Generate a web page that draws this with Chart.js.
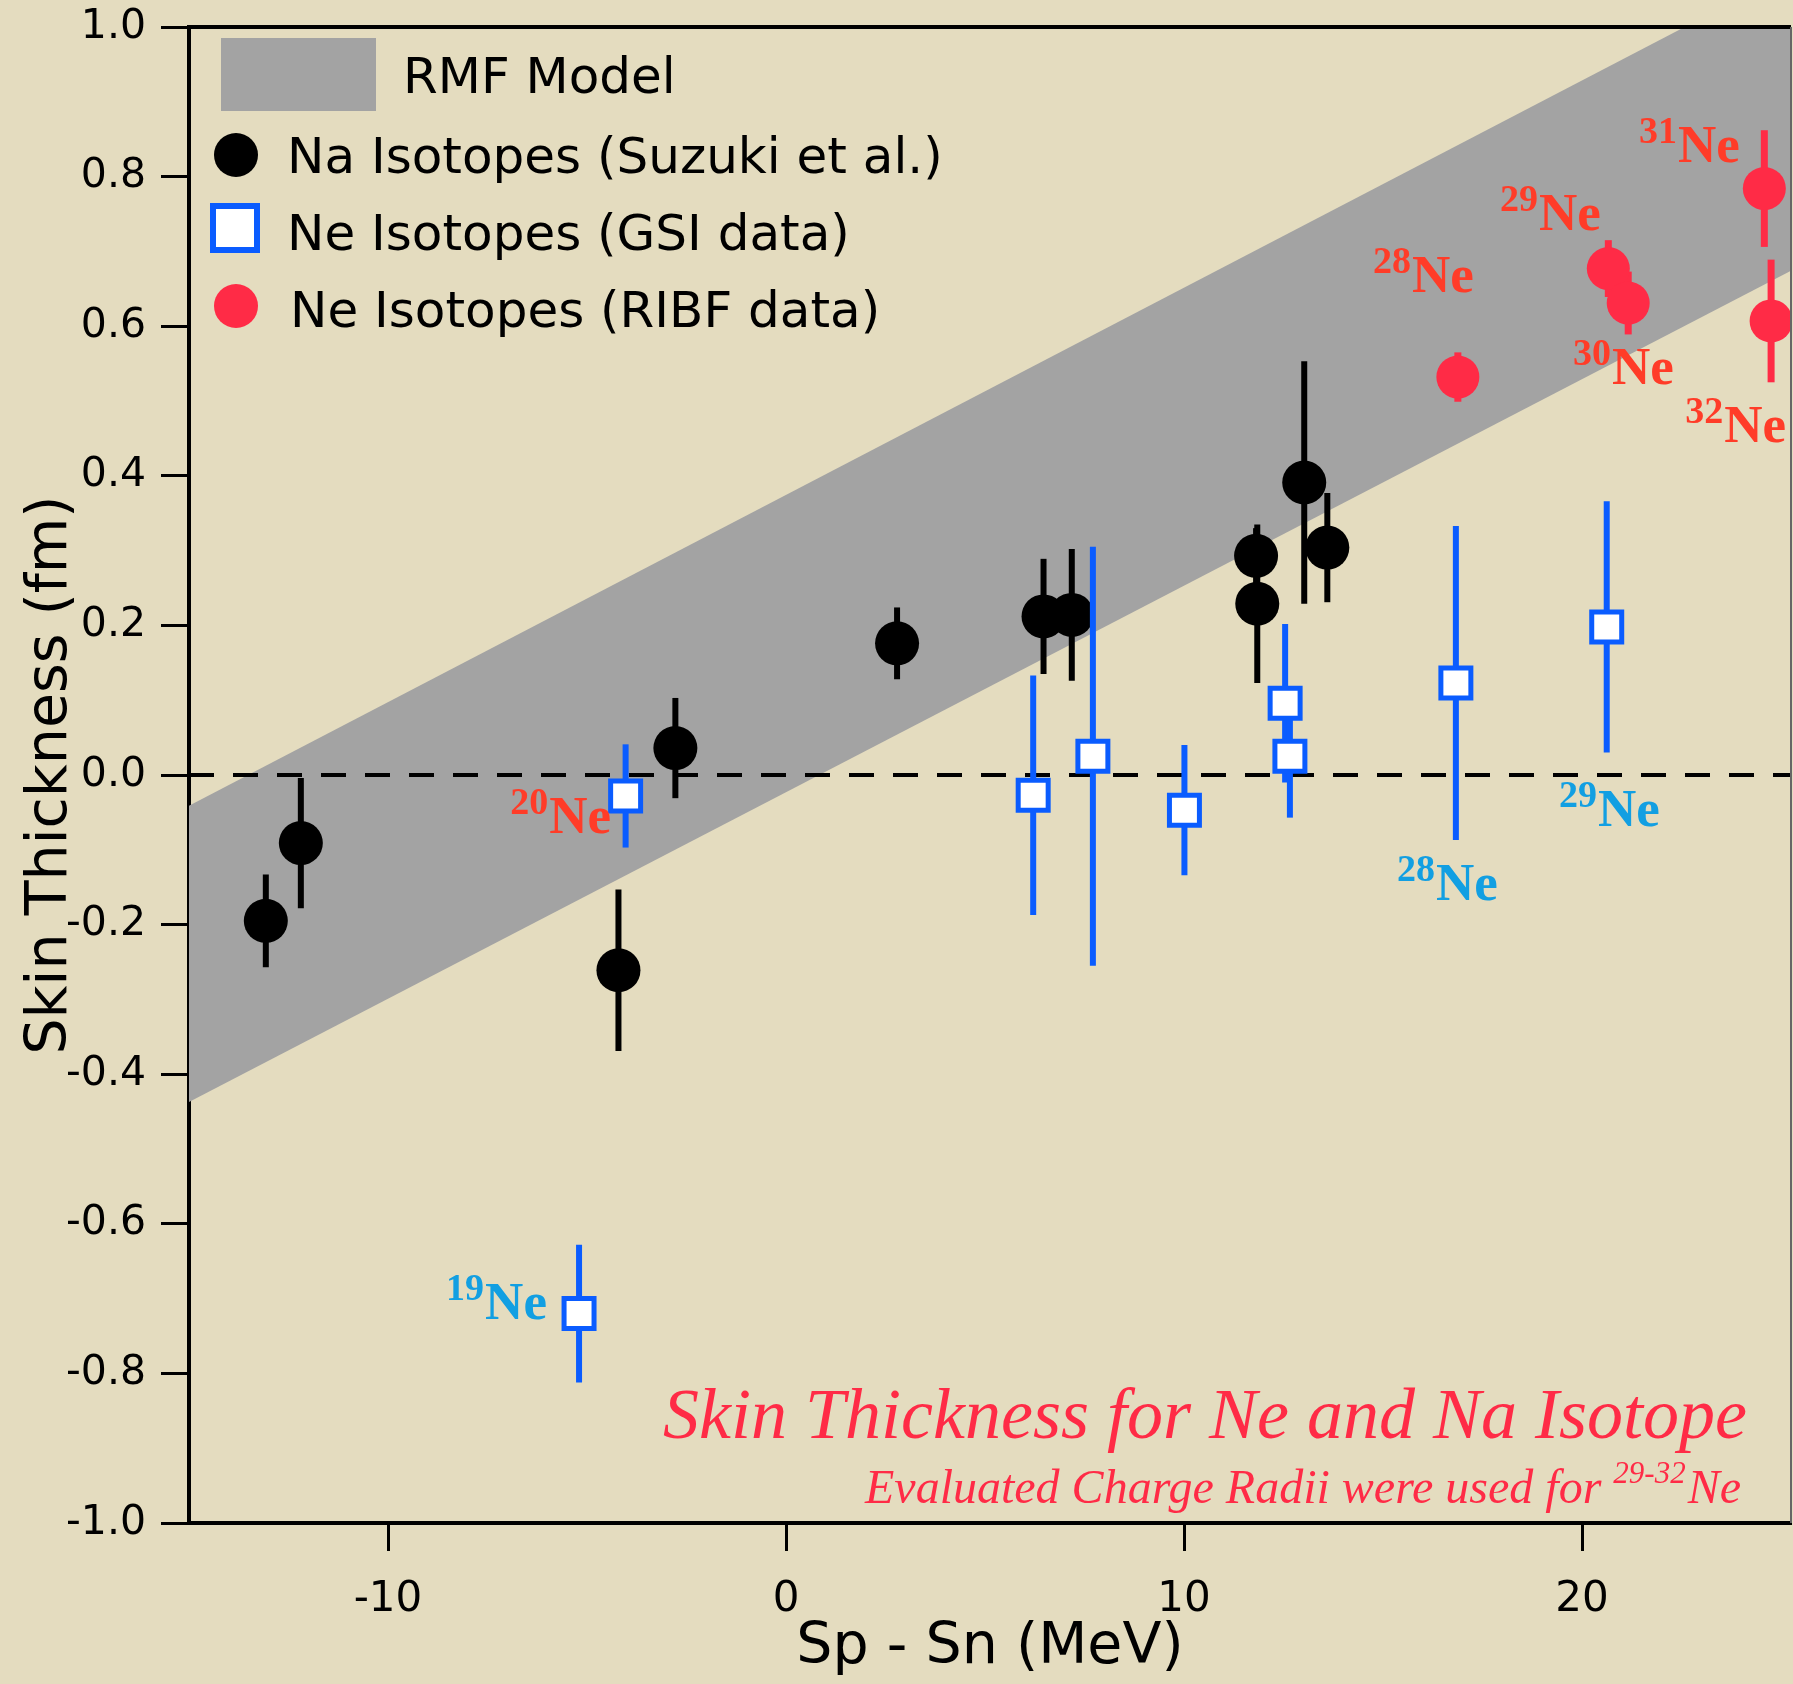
<!DOCTYPE html>
<html>
<head>
<meta charset="utf-8">
<title>Skin Thickness for Ne and Na Isotope</title>
<script src="https://cdn.jsdelivr.net/npm/chart.js@4.4.1/dist/chart.umd.min.js"></script>
<style>
  html, body { margin: 0; padding: 0; background: #e4dcbf; }
  #wrap { width: 1793px; height: 1684px; position: relative; }
</style>
</head>
<body>
<div id="wrap"><canvas id="skinChart"></canvas></div>
<script>
// x = Sp - Sn (MeV), y = skin thickness (fm), err = half length of the error bar
const naX   = [-13.07, -12.19, -4.21, -2.78, 2.79, 6.47, 7.18, 11.81, 11.84, 13.02, 13.60];
const naY   = [-0.195, -0.091, -0.261, 0.036, 0.176, 0.212, 0.214, 0.293, 0.229, 0.391, 0.304];
const naErr = [0.062, 0.087, 0.108, 0.067, 0.048, 0.077, 0.088, 0.037, 0.106, 0.162, 0.073];

const gsiX   = [-5.20, -4.03, 6.21, 7.71, 10.01, 12.54, 12.66, 16.83, 20.62];
const gsiY   = [-0.720, -0.028, -0.027, 0.025, -0.047, 0.096, 0.025, 0.123, 0.198];
const gsiErr = [0.092, 0.069, 0.160, 0.280, 0.087, 0.106, 0.082, 0.210, 0.168];

const ribfX   = [16.88, 20.66, 21.16, 24.58, 24.75];
const ribfY   = [0.532, 0.677, 0.631, 0.784, 0.607];
const ribfErr = [0.033, 0.038, 0.042, 0.078, 0.082];

// RMF model band (straight edges)
const bandX     = [-15, 25.25];
const bandUpper = [-0.041, 1.074];
const bandLower = [-0.437, 0.674];
const zeroY     = [0, 0];

const xTicks = [-10, 0, 10, 20];
const yTicks = [-1.0, -0.8, -0.6, -0.4, -0.2, 0.0, 0.2, 0.4, 0.6, 0.8, 1.0];

// isotope tags, anchored (left, baseline) in data units
const isoTags = [
  { mass: '31', x: 21.43, y: 0.820, kind: 'ribf' },
  { mass: '29', x: 17.94, y: 0.729, kind: 'ribf' },
  { mass: '28', x: 14.75, y: 0.646, kind: 'ribf' },
  { mass: '30', x: 19.77, y: 0.523, kind: 'ribf' },
  { mass: '32', x: 22.59, y: 0.445, kind: 'ribf' },
  { mass: '20', x: -6.93, y: -0.078, kind: 'ribf' },
  { mass: '19', x: -8.54, y: -0.727, kind: 'gsi' },
  { mass: '28', x: 15.35, y: -0.167, kind: 'gsi' },
  { mass: '29', x: 19.42, y: -0.068, kind: 'gsi' }
];

const SANS = '"DejaVu Sans", "Noto Sans", sans-serif';
const SERIF = '"Liberation Serif", "Times New Roman", serif';
const RED = '#ff2b46';
const BLUE = '#0a5cff';

const pts = (xs, ys) => xs.map((x, i) => ({x, y: ys[i]}));

const errorBars = {
  id: 'errorBars',
  beforeDatasetDraw(chart, args) {
    const ds = chart.data.datasets[args.index];
    if (!ds.errors) return;
    const {ctx, chartArea, scales: {x, y}} = chart;
    ctx.save();
    ctx.beginPath();
    ctx.rect(chartArea.left, chartArea.top, chartArea.right - chartArea.left, chartArea.bottom - chartArea.top);
    ctx.clip();
    ctx.strokeStyle = ds.errColor;
    ctx.lineWidth = ds.errWidth;
    ds.data.forEach((p, i) => {
      const px = x.getPixelForValue(p.x);
      ctx.beginPath();
      ctx.moveTo(px, y.getPixelForValue(p.y + ds.errors[i]));
      ctx.lineTo(px, y.getPixelForValue(p.y - ds.errors[i]));
      ctx.stroke();
    });
    ctx.restore();
  }
};

const decorations = {
  id: 'decorations',
  afterDraw(chart) {
    const {ctx, chartArea: a, scales: {x, y}} = chart;
    const ds = chart.data.datasets;
    ctx.save();

    // frame top / right
    ctx.strokeStyle = '#000';
    ctx.lineWidth = 4;
    ctx.beginPath();
    ctx.moveTo(a.left - 2, a.top);
    ctx.lineTo(a.right, a.top);
    ctx.stroke();
    ctx.strokeStyle = '#666';
    ctx.lineWidth = 2;
    ctx.beginPath();
    ctx.moveTo(a.right, a.top);
    ctx.lineTo(a.right, a.bottom);
    ctx.stroke();

    // legend
    ctx.fillStyle = '#a3a3a3';
    ctx.fillRect(221, 38, 155, 73);
    ctx.fillStyle = '#000';
    ctx.beginPath(); ctx.arc(236, 155, 22, 0, Math.PI * 2); ctx.fill();
    ctx.fillStyle = '#fff';
    ctx.fillRect(213, 206, 44, 44);
    ctx.strokeStyle = BLUE; ctx.lineWidth = 6;
    ctx.strokeRect(213, 206, 44, 44);
    ctx.fillStyle = RED;
    ctx.beginPath(); ctx.arc(236, 306, 22, 0, Math.PI * 2); ctx.fill();

    ctx.fillStyle = '#000';
    ctx.font = '50px ' + SANS;
    ctx.textAlign = 'left';
    ctx.textBaseline = 'alphabetic';
    ctx.fillText(ds[1].label, 403, 93);
    ctx.fillText(ds[3].label, 287, 173);
    ctx.fillText(ds[4].label, 287, 250);
    ctx.fillText(ds[5].label, 290, 327);

    // isotope tags
    isoTags.forEach(t => {
      const px = x.getPixelForValue(t.x);
      const py = y.getPixelForValue(t.y);
      ctx.fillStyle = t.kind === 'gsi' ? '#129fe2' : '#ff3c28';
      ctx.font = 'bold 38px ' + SERIF;
      ctx.fillText(t.mass, px, py - 19);
      const w = ctx.measureText(t.mass).width;
      ctx.font = 'bold 53px ' + SERIF;
      ctx.fillText('Ne', px + w + 1, py);
    });

    // caption
    ctx.fillStyle = RED;
    ctx.textAlign = 'right';
    ctx.font = 'italic 72px ' + SERIF;
    ctx.fillText('Skin Thickness for Ne and Na Isotope', 1747, 1438);
    ctx.font = 'italic 48px ' + SERIF;
    ctx.fillText('Ne', 1741, 1503);
    let xr = 1741 - ctx.measureText('Ne').width;
    ctx.font = 'italic 31px ' + SERIF;
    ctx.fillText('29-32', xr - 2, 1483);
    xr -= ctx.measureText('29-32').width + 2;
    ctx.font = 'italic 48px ' + SERIF;
    ctx.fillText('Evaluated Charge Radii were used for ', xr, 1503);

    ctx.restore();
  }
};

new Chart(document.getElementById('skinChart'), {
  type: 'scatter',
  data: {
    datasets: [
      { type: 'line', label: 'RMF upper', data: pts(bandX, bandUpper), borderWidth: 0, pointRadius: 0, fill: false, order: 10 },
      { type: 'line', label: 'RMF Model', data: pts(bandX, bandLower), borderWidth: 0, pointRadius: 0,
        backgroundColor: '#a3a3a3', fill: '-1', order: 10 },
      { type: 'line', label: 'zero', data: pts(bandX, zeroY), borderColor: '#000', borderWidth: 4,
        borderDash: [25, 19], pointRadius: 0, fill: false, order: 9 },
      { label: 'Na Isotopes (Suzuki et al.)', data: pts(naX, naY), errors: naErr, errColor: '#000', errWidth: 6,
        pointStyle: 'circle', pointRadius: 22, backgroundColor: '#000', borderWidth: 0, order: 3 },
      { label: 'Ne Isotopes (GSI data)', data: pts(gsiX, gsiY), errors: gsiErr, errColor: BLUE, errWidth: 6,
        pointStyle: 'rect', pointRadius: 21.2, backgroundColor: '#fff', borderColor: BLUE, borderWidth: 5, order: 2 },
      { label: 'Ne Isotopes (RIBF data)', data: pts(ribfX, ribfY), errors: ribfErr, errColor: RED, errWidth: 7,
        pointStyle: 'circle', pointRadius: 21.5, backgroundColor: RED, borderWidth: 0, order: 1, clip: 1 }
    ]
  },
  options: {
    responsive: true,
    maintainAspectRatio: false,
    animation: false,
    layout: { autoPadding: false, padding: { top: 27, right: 2, left: 0, bottom: 0 } },
    plugins: {
      legend: { display: false },
      tooltip: { enabled: false }
    },
    scales: {
      x: {
        type: 'linear',
        min: -15, max: 25.25,
        afterFit: s => { s.height = 161; s.paddingLeft = 0; s.paddingRight = 0; },
        afterBuildTicks: s => { s.ticks = xTicks.map(v => ({value: v})); },
        ticks: { color: '#000', padding: 24, font: { family: SANS, size: 42 }, callback: v => String(v) },
        grid: { drawOnChartArea: false, tickLength: 28, tickWidth: 3, tickColor: '#000' },
        border: { color: '#000', width: 4 },
        title: { display: true, text: 'Sp - Sn (MeV)', color: '#000', font: { family: SANS, size: 57 },
                 padding: { top: 0, bottom: 2 } }
      },
      y: {
        type: 'linear',
        min: -1, max: 1,
        afterFit: s => { s.width = 189; s.paddingTop = 0; s.paddingBottom = 0; },
        afterBuildTicks: s => { s.ticks = yTicks.map(v => ({value: v})); },
        ticks: { color: '#000', padding: 15, font: { family: SANS, size: 41 }, callback: v => v.toFixed(1) },
        grid: { drawOnChartArea: false, tickLength: 28, tickWidth: 3, tickColor: '#000' },
        border: { color: '#000', width: 4 },
        title: { display: true, text: 'Skin Thickness (fm)', color: '#000', font: { family: SANS, size: 57 },
                 padding: { top: 17, bottom: 0 } }
      }
    }
  },
  plugins: [errorBars, decorations]
});
</script>
</body>
</html>
